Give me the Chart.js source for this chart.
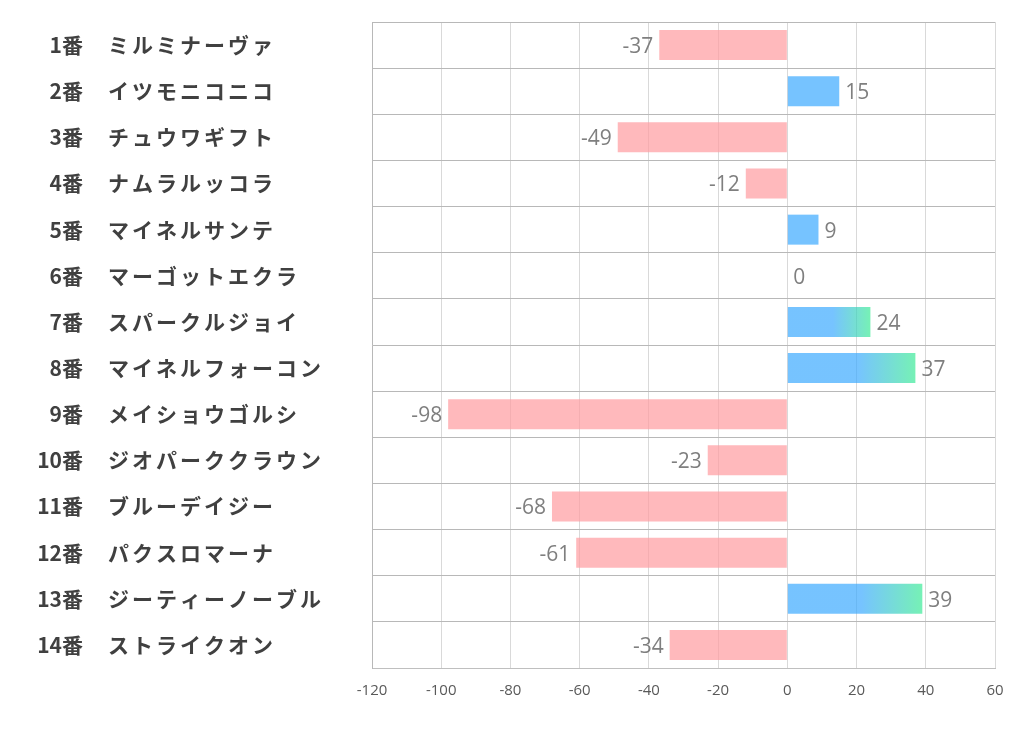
<!DOCTYPE html>
<html>
<head>
<meta charset="utf-8">
<script src="https://cdn.jsdelivr.net/npm/chart.js@4/dist/chart.umd.min.js"></script>
<style>
  html, body { margin: 0; padding: 0; background: #ffffff; }
  #wrap { width: 1022px; height: 730px; }
</style>
</head>
<body>
<div id="wrap"><canvas id="horseChart" width="1022" height="730"></canvas></div>
<script>
// 馬番と馬名
const horseNumbers = ['1番', '2番', '3番', '4番', '5番', '6番', '7番', '8番', '9番', '10番', '11番', '12番', '13番', '14番'];
const horseNames = ['ミルミナーヴァ', 'イツモニコニコ', 'チュウワギフト', 'ナムラルッコラ', 'マイネルサンテ', 'マーゴットエクラ', 'スパークルジョイ',
    'マイネルフォーコン', 'メイショウゴルシ', 'ジオパーククラウン', 'ブルーデイジー', 'パクスロマーナ', 'ジーティーノーブル', 'ストライクオン'];
// 指数
const scores = [-37, 15, -49, -12, 9, 0, 24, 37, -98, -23, -68, -61, 39, -34];
// 横軸目盛
const xTicks = [-120, -100, -80, -60, -40, -20, 0, 20, 40, 60];

const pink = 'rgba(255, 155, 160, 0.7)';
const blue = 'rgba(60, 170, 255, 0.7)';
const green = 'rgba(60, 235, 150, 0.7)';

// 正の値で20以上はグラデーション
function barColor(context) {
    const v = context.raw;
    if (v < 0) return pink;
    if (v < 20) return blue;
    const chart = context.chart;
    if (!chart.chartArea) return blue;
    const x = chart.scales.x;
    const x0 = x.getPixelForValue(0);
    const x1 = x.getPixelForValue(v);
    const g = chart.ctx.createLinearGradient(x0, 0, x1, 0);
    g.addColorStop(0, blue);
    g.addColorStop(0.55, blue);
    g.addColorStop(1, green);
    return g;
}

// 左側ラベル（番号＋馬名）
const leftLabels = {
    id: 'leftLabels',
    afterDraw(chart) {
        const ctx = chart.ctx;
        const y = chart.scales.y;
        ctx.save();
        ctx.fillStyle = '#404040';
        ctx.textBaseline = 'middle';
        ctx.font = 'bold 21px "Noto Sans CJK JP", "Noto Sans"';
        horseNumbers.forEach((num, i) => {
            const py = y.getPixelForValue(i);
            ctx.letterSpacing = '0px';
            ctx.textAlign = 'right';
            ctx.fillText(num, 83, py);
            ctx.letterSpacing = '3px';
            ctx.textAlign = 'left';
            ctx.fillText(horseNames[i], 108, py);
        });
        ctx.restore();
    }
};

// 棒の先に値を表示
const valueLabels = {
    id: 'valueLabels',
    afterDatasetsDraw(chart) {
        const ctx = chart.ctx;
        const meta = chart.getDatasetMeta(0);
        ctx.save();
        ctx.fillStyle = '#7f7f7f';
        ctx.font = '21px "Open Sans", "Noto Sans"';
        ctx.textBaseline = 'middle';
        meta.data.forEach((bar, i) => {
            const v = scores[i];
            if (v < 0) {
                ctx.textAlign = 'right';
                ctx.fillText(String(v), bar.x - 6, bar.y + 2);
            } else {
                ctx.textAlign = 'left';
                ctx.fillText(String(v), bar.x + 6, bar.y + 2);
            }
        });
        ctx.restore();
    }
};

new Chart(document.getElementById('horseChart'), {
    type: 'bar',
    data: {
        labels: horseNumbers,
        datasets: [{
            data: scores,
            backgroundColor: barColor,
            borderWidth: 0,
            barPercentage: 0.65,
            categoryPercentage: 1
        }]
    },
    options: {
        indexAxis: 'y',
        responsive: false,
        animation: false,
        layout: { padding: { top: 22, right: 27, left: 0, bottom: 0 } },
        plugins: {
            legend: { display: false },
            tooltip: { enabled: false }
        },
        scales: {
            x: {
                min: xTicks[0],
                max: xTicks[xTicks.length - 1],
                afterBuildTicks(scale) {
                    scale.ticks = xTicks.map(v => ({ value: v }));
                },
                afterFit(scale) { scale.height = 62; },
                ticks: {
                    color: '#595959',
                    padding: 14,
                    font: { family: '"Open Sans", "Noto Sans"', size: 15 }
                },
                grid: { color: '#d9d9d9', drawTicks: false },
                border: { color: '#bfbfbf', width: 1 }
            },
            y: {
                afterFit(scale) { scale.width = 372; },
                ticks: { display: false },
                grid: { color: '#b8b8b8', offset: true, drawTicks: false },
                border: { color: '#b8b8b8', width: 1 }
            }
        }
    },
    plugins: [leftLabels, valueLabels]
});
</script>
</body>
</html>
